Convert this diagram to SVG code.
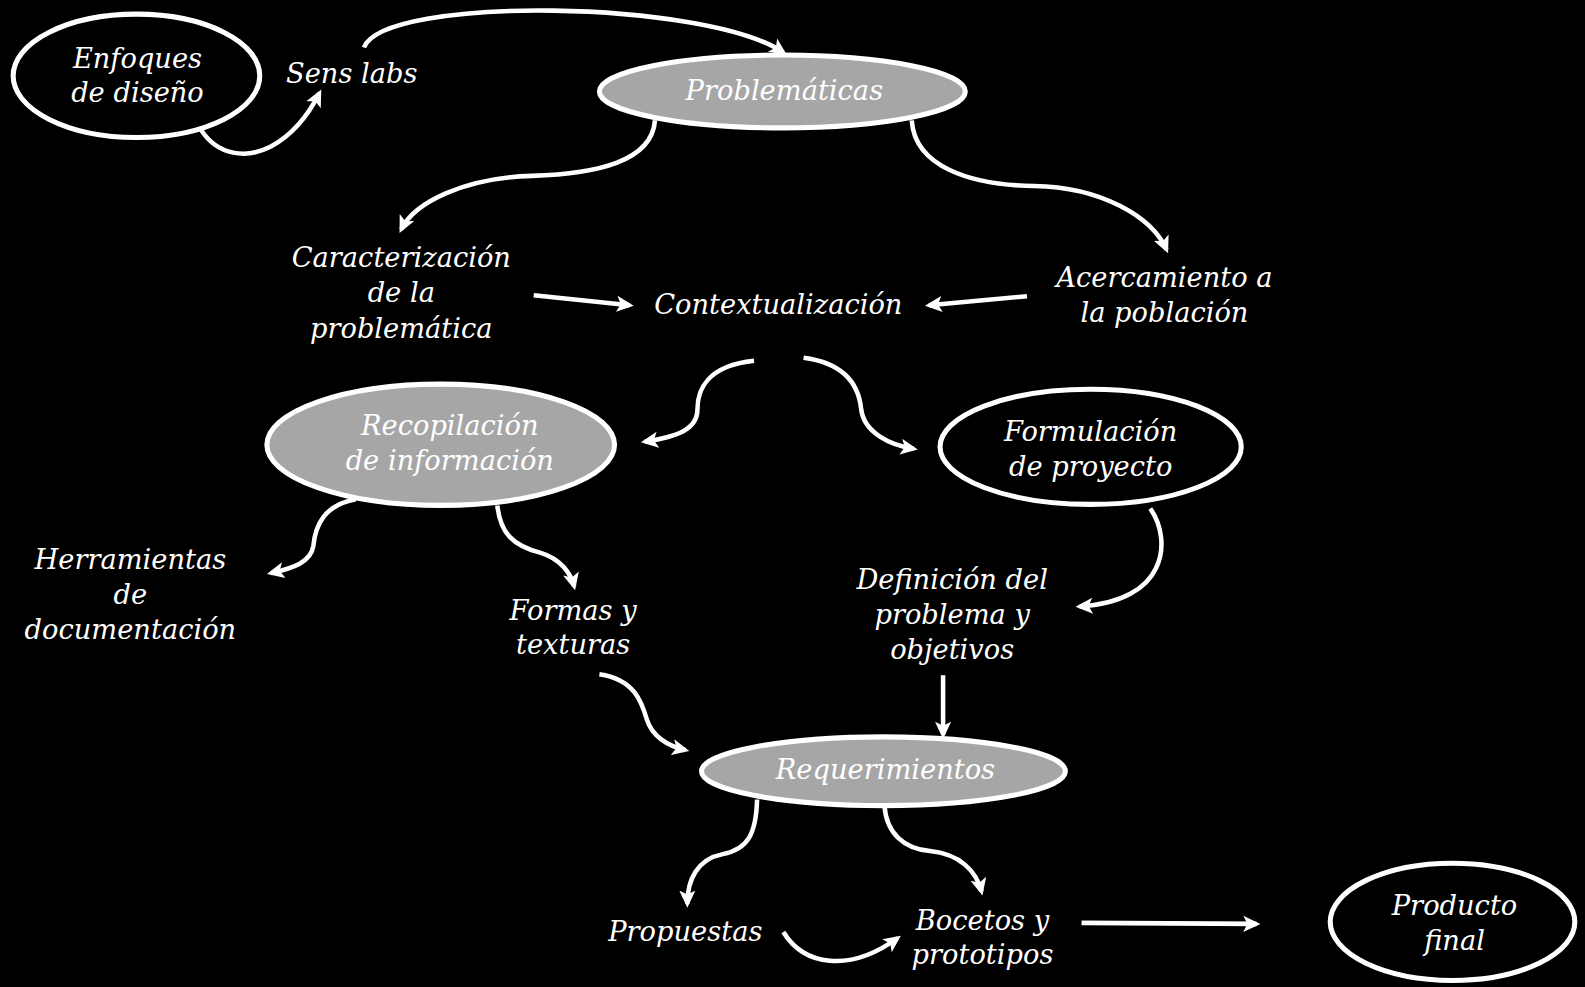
<svg xmlns="http://www.w3.org/2000/svg" width="1585" height="987" viewBox="0 0 1585 987">
<defs>
<style>
.bg{fill:#000}
.ew{fill:#000;stroke:#fff;stroke-width:5}
.eg{fill:#a6a6a6;stroke:#fff;stroke-width:5}
text{font-family:"DejaVu Serif","Liberation Serif",serif;font-style:italic;font-size:27px;fill:#fff;text-anchor:middle}
.c path{fill:none;stroke:#fff;stroke-width:4.5;marker-end:url(#ah)}
</style>
<marker id="ah" markerUnits="userSpaceOnUse" markerWidth="20" markerHeight="18" refX="13" refY="8" orient="auto" viewBox="0 0 20 16">
<path d="M0,0 L17,8 L0,16 L4,8 z" fill="#fff"/>
</marker>
</defs>
<rect class="bg" x="0" y="0" width="1585" height="987"/>
<g transform="scale(1.0108)">
<g id="enfoques"><ellipse class="ew" cx="135" cy="75" rx="122" ry="61"/><text x="136" y="67">Enfoques</text><text x="136" y="101">de diseño</text></g>
<g id="senslabs"><text x="348" y="82">Sens labs</text></g>
<g id="problematicas"><ellipse class="eg" cx="774" cy="90.5" rx="181" ry="36"/><text x="776" y="99">Problemáticas</text></g>
<g id="caracterizacion"><text x="397" y="264">Caracterización</text><text x="397" y="299">de la</text><text x="397" y="334">problemática</text></g>
<g id="contextualizacion"><text x="770" y="311">Contextualización</text></g>
<g id="acercamiento"><text x="1152" y="284">Acercamiento a</text><text x="1152" y="319">la población</text></g>
<g id="recopilacion"><ellipse class="eg" cx="436" cy="440" rx="172" ry="60"/><text x="445" y="430">Recopilación</text><text x="445" y="465">de información</text></g>
<g id="formulacion"><ellipse class="ew" cx="1079" cy="442" rx="149" ry="57"/><text x="1079" y="436">Formulación</text><text x="1079" y="471">de proyecto</text></g>
<g id="herramientas"><text x="129" y="563">Herramientas</text><text x="129" y="598">de</text><text x="129" y="632">documentación</text></g>
<g id="formas"><text x="567" y="613">Formas y</text><text x="567" y="647">texturas</text></g>
<g id="definicion"><text x="942" y="583">Definición del</text><text x="942" y="617">problema y</text><text x="942" y="652">objetivos</text></g>
<g id="requerimientos"><ellipse class="eg" cx="874" cy="763" rx="180" ry="34"/><text x="876" y="771">Requerimientos</text></g>
<g id="propuestas"><text x="678" y="931">Propuestas</text></g>
<g id="bocetos"><text x="972" y="920">Bocetos y</text><text x="972" y="954">prototipos</text></g>
<g id="producto"><ellipse class="ew" cx="1437" cy="912" rx="121" ry="58"/><text x="1439" y="905">Producto</text><text x="1439" y="940">final</text></g>
<g id="connectors" class="c">
<path d="M198,127 C215,155 245,157 268,145 C290,133 306,112 316,92"/>
<path d="M360,47 C380,-5 700,0 775,52"/>
<path d="M648,119 C645,160 590,172 526,174 C460,176 410,200 397,227"/>
<path d="M902,119 C905,165 960,183 1023,184 C1090,185 1140,215 1154,247"/>
<path d="M528,292 L623,302"/>
<path d="M1016,293 L919,302"/>
<path d="M746,357 C700,362 690,385 690,405 C690,425 670,432 638,437"/>
<path d="M795,354 C840,360 850,385 852,405 C855,428 880,440 904,444"/>
<path d="M352,494 C320,500 312,520 310,540 C308,556 290,562 268,567"/>
<path d="M492,500 C495,528 508,540 535,547 C555,553 565,568 568,580"/>
<path d="M1138,503 C1160,535 1155,595 1068,600"/>
<path d="M593,667 C628,672 635,695 640,712 C645,728 660,738 678,742"/>
<path d="M933,668 L933,727"/>
<path d="M749,791 C748,825 740,840 715,845 C690,850 680,870 680,894"/>
<path d="M875,797 C877,825 895,840 920,842 C950,845 966,862 971,882"/>
<path d="M775,922 C795,955 840,963 888,928"/>
<path d="M1070,913 L1243,914"/>
</g>
</g>
</svg>
